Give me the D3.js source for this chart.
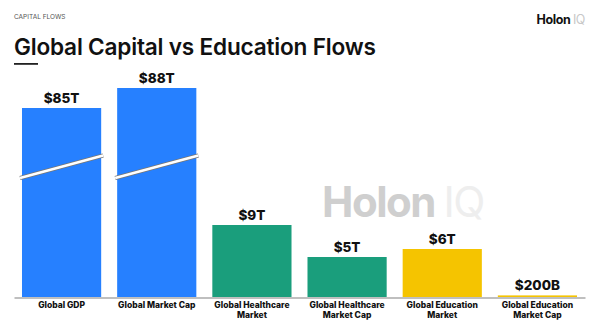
<!DOCTYPE html>
<html><head><meta charset="utf-8">
<script src="https://cdn.jsdelivr.net/npm/d3@7"></script>
<style>html,body{margin:0;padding:0;background:#fff;}svg{display:block;}</style>
</head><body>
<svg id="c" width="596" height="321"></svg>
<script>
const categories = [["Global GDP"],["Global Market Cap"],["Global Healthcare","Market"],["Global Healthcare","Market Cap"],["Global Education","Market"],["Global Education","Market Cap"]];
const values = [85, 88, 9, 5, 6, 0.2];
const valueLabels = ["$85T","$88T","$9T","$5T","$6T","$200B"];
const colors = ["#2680FF","#2680FF","#1A9E7C","#1A9E7C","#F5C400","#F5C400"];
const broken = [true, true, false, false, false, false];

const svg = d3.select("#c");
const base = 297;
const x = d3.scaleBand().domain(d3.range(values.length)).range([14, 585]).paddingInner(0.168).paddingOuter(0.084);
// piecewise (broken) y scale
const y = d3.scaleLinear().domain([0, 9, 85, 88]).range([base, base - 72, 108, 88]);

// header
svg.append("text").attr("x",14).attr("y",19).attr("font-family","Inter, sans-serif").attr("font-size",6.5).attr("fill","#555").text("CAPITAL FLOWS");
svg.append("text").attr("x",14).attr("y",55).attr("font-family","Inter, sans-serif").attr("font-weight",600).attr("font-size",22.6).attr("fill","#111").attr("letter-spacing","-0.2").text("Global Capital vs Education Flows");
svg.append("rect").attr("x",14).attr("y",63).attr("width",24).attr("height",1.8).attr("fill","#222");

// logo
const logo = svg.append("text").attr("x",585).attr("y",24).attr("text-anchor","end").attr("font-family","Inter, sans-serif").attr("font-weight",700).attr("font-size",12.5).attr("letter-spacing","-0.4");
logo.append("tspan").attr("fill","#111").text("Holon ");
logo.append("tspan").attr("fill","#c8c8c8").attr("font-weight",400).text("IQ");

// watermark
const wm = svg.append("text").attr("x",322).attr("y",217).attr("font-family","Inter, sans-serif").attr("font-weight",700).attr("font-size",42).attr("letter-spacing","-1.5");
wm.append("tspan").attr("fill","#cfcfcf").text("Holon ");
wm.append("tspan").attr("fill","#eeeeee").attr("font-weight",400).text("IQ");

// bars
svg.selectAll("rect.bar").data(values).join("rect").attr("class","bar")
  .attr("x",(d,i)=>x(i)).attr("width",x.bandwidth())
  .attr("y",d=>y(d)).attr("height",d=>base - y(d))
  .attr("fill",(d,i)=>colors[i]);

// breaks
values.forEach((d,i)=>{
  if(!broken[i]) return;
  const x0 = x(i) - 2, x1 = x(i) + x.bandwidth() + 2;
  const g = svg.append("g");
  g.append("line").attr("x1",x0).attr("y1",178).attr("x2",x1).attr("y2",155.5).attr("stroke","#777").attr("stroke-width",4);
  g.append("line").attr("x1",x0).attr("y1",178).attr("x2",x1).attr("y2",155.5).attr("stroke","#fff").attr("stroke-width",2.6);
});

// value labels
svg.selectAll("text.val").data(values).join("text").attr("class","val")
  .attr("x",(d,i)=>x(i)+x.bandwidth()/2).attr("y",d=>y(d)-5)
  .attr("text-anchor","middle").attr("font-family","Inter, sans-serif").attr("font-weight",800).attr("font-size",13.5).attr("fill","#111")
  .text((d,i)=>valueLabels[i]);

// axis
const axis = d3.axisBottom(x).tickSize(0).tickFormat("");
const ag = svg.append("g").attr("transform",`translate(0,${base+0.5})`).call(axis);
ag.select(".domain").attr("stroke","#aaa").attr("stroke-width",1.5);
ag.selectAll(".tick").each(function(d){
  const t = d3.select(this).append("text").attr("fill","#111").attr("font-family","Inter, sans-serif").attr("font-weight",800).attr("font-size",8.5).attr("text-anchor","middle");
  categories[d].forEach((line,k)=>{
    t.append("tspan").attr("x",0).attr("y",10 + k*10).text(line);
  });
});
</script>
</body></html>
